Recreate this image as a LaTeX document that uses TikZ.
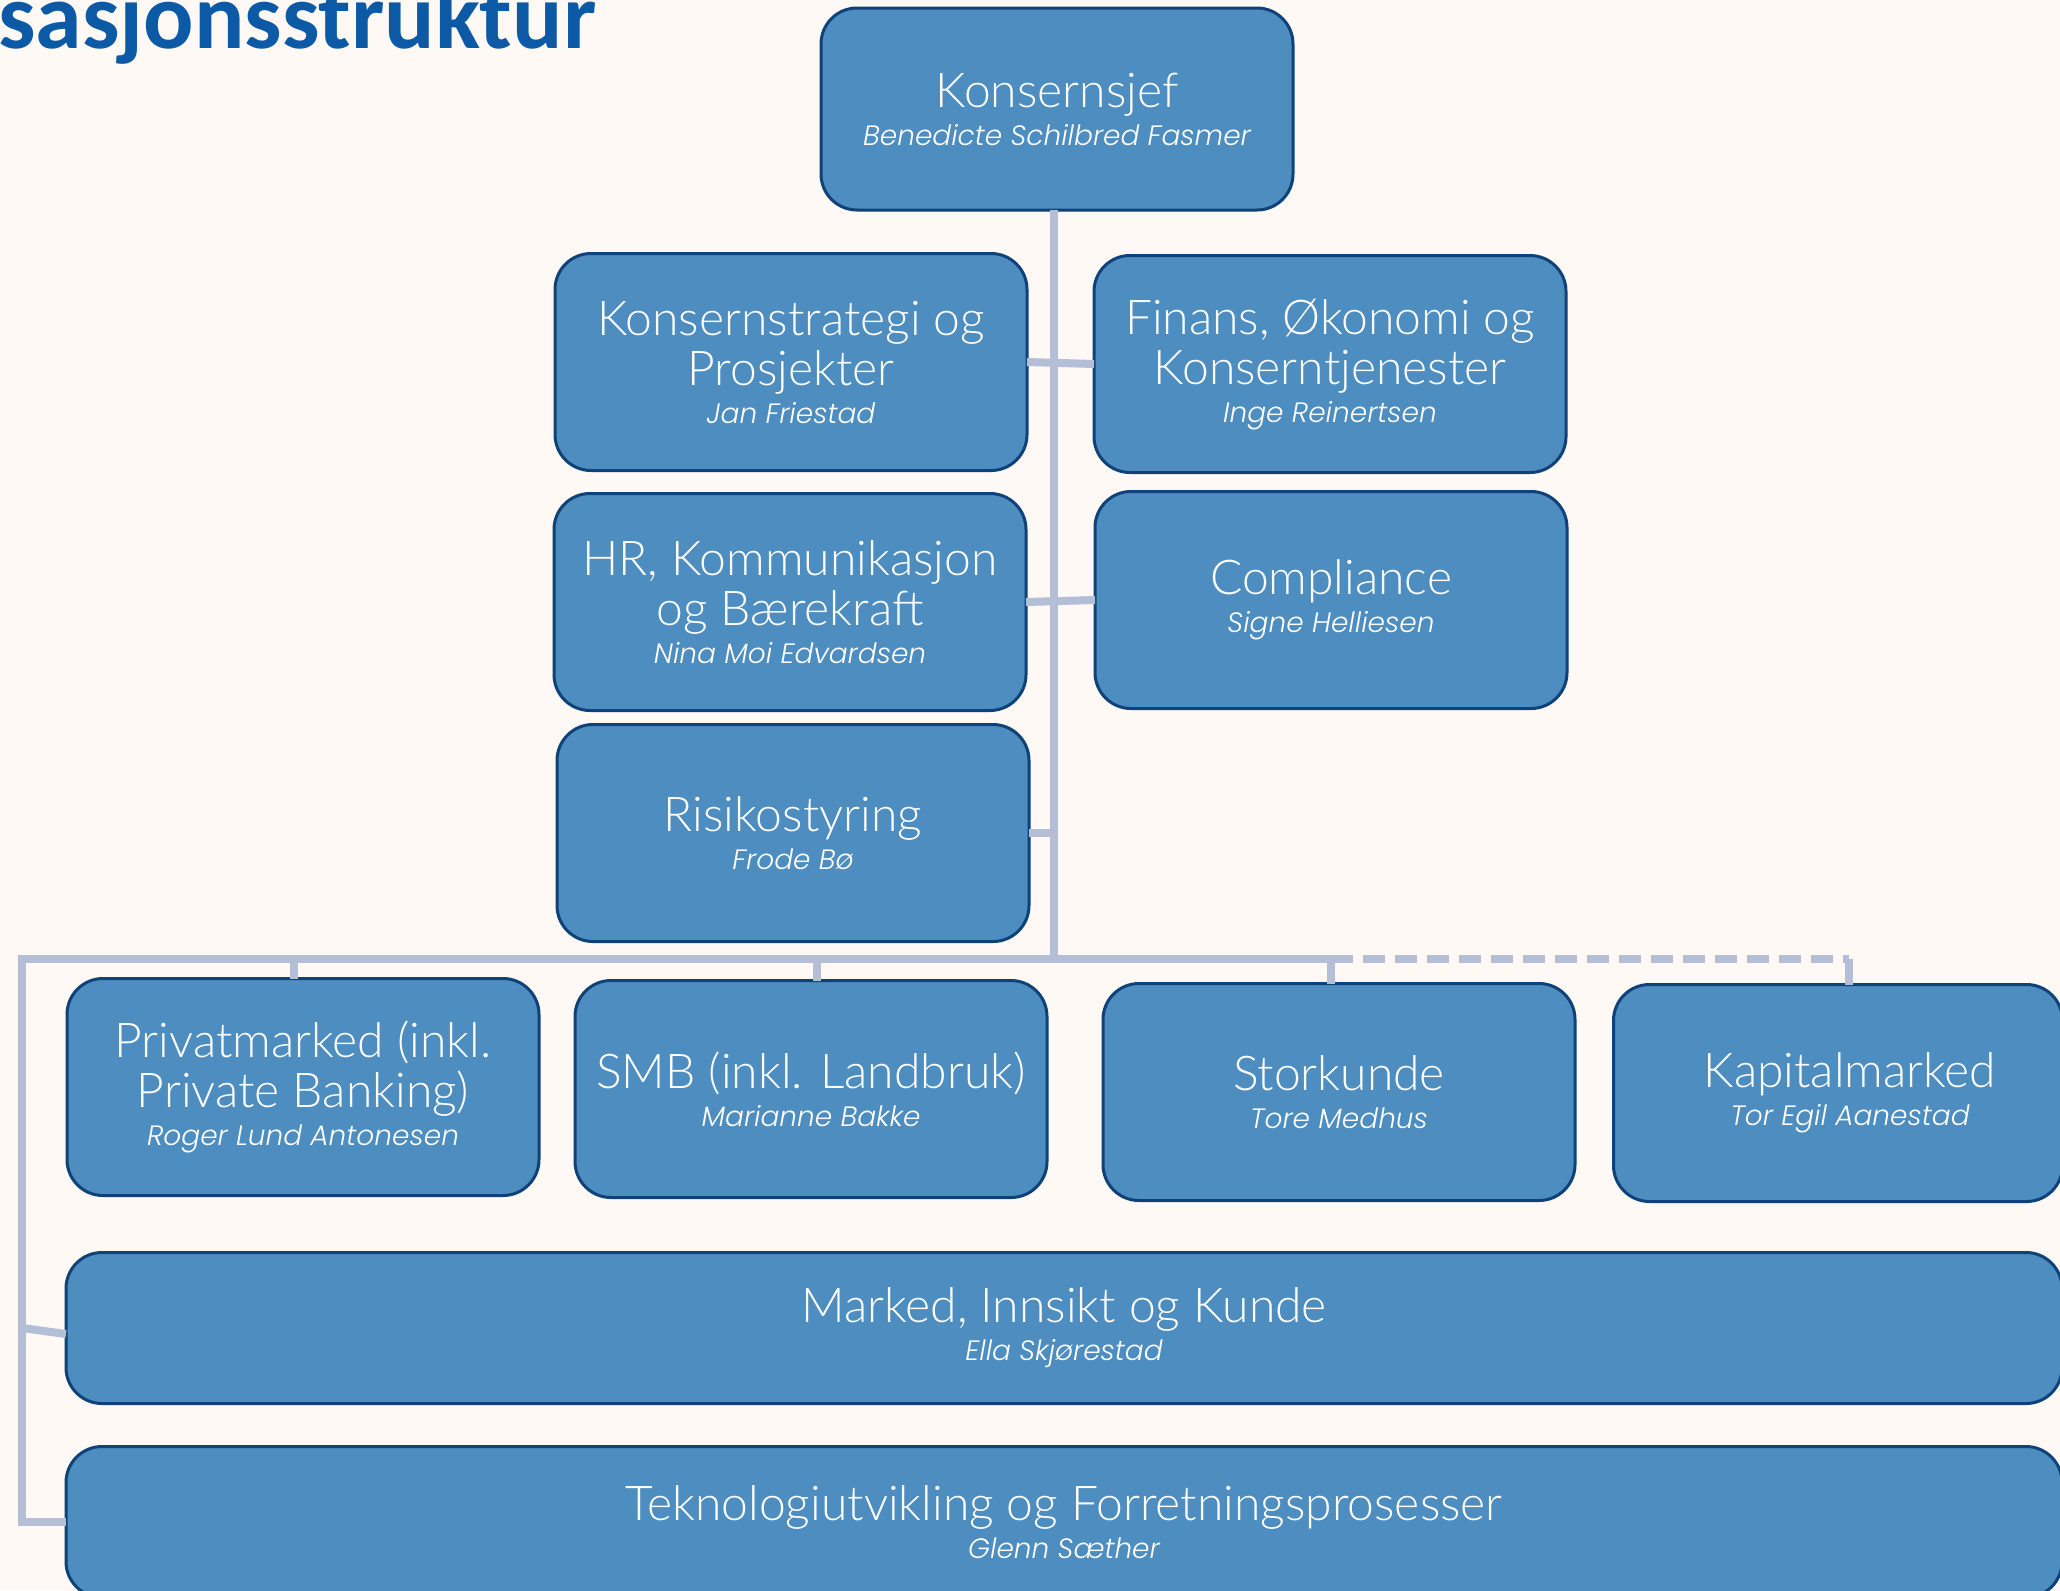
\documentclass[tikz,border=0pt]{standalone}
\usepackage{fontspec}
\setmainfont{Lato Light}[ItalicFont={Lato Light Italic}]
\IfFontExistsTF{Poppins Light Italic}
  {\newfontfamily\namefont{Poppins Light Italic}}
  {\newfontfamily\namefont{Poppins Italic}}
\newfontfamily\headfont{Carlito}
\usetikzlibrary{calc}
\definecolor{pagebg}  {RGB}{254,249,245}
\definecolor{unitfill}{RGB}{ 78,141,192}
\definecolor{unitline}{RGB}{ 14, 66,120}
\definecolor{linkcol} {RGB}{180,190,215}
\definecolor{headblue}{RGB}{ 12, 90,165}
\tikzset{
  %% Rounded blue unit box
  unit/.style={
    draw=unitline, fill=unitfill, line width=1.5pt,
    rounded corners=18pt, text=white, align=center,
    inner sep=0pt, outer sep=0pt,
    minimum width=236pt, minimum height=108.5pt,
    font=\fontsize{24}{25}\selectfont
  },
  wideunit/.style={unit, minimum width=998pt, minimum height=75.5pt},
  %% Grey-blue reporting lines
  link/.style={draw=linkcol, line width=4pt, line join=miter},
  dottedlink/.style={link, dash pattern=on 11pt off 5pt},
  pagetitle/.style={font=\headfont\bfseries\fontsize{47}{50}\selectfont,
    text=headblue, inner sep=0pt, anchor=base west},
}
\newcommand{\who}[1]{\\[-6pt]{\namefont\fontsize{14}{16}\selectfont #1}}

\begin{document}
\begin{tikzpicture}[x=0.5pt, y=-0.5pt]

  %% ── Page ──────────────────────────────────────────────────────────────
  \useasboundingbox (0,0) rectangle (2060,1590);
  \clip (0,0) rectangle (2060,1590);
  \fill[pagebg] (0,0) rectangle (2060,1590);

  \node[pagetitle] (title) at (-2,48) {sasjonsstruktur};

  %% ══════════════════════════════════════════════════════════════════════
  %%  STAFF UNITS
  %% ══════════════════════════════════════════════════════════════════════
  \node[unit, minimum height=101pt] (ceo) at (1057,109)
        {Konsernsjef\who{Benedicte Schilbred Fasmer}};

  \node[unit] (strat) at (791,362)
        {Konsernstrategi og\\Prosjekter\who{Jan Friestad}};
  \node[unit] (fin)   at (1330,364)
        {Finans, Økonomi og\\Konserntjenester\who{Inge Reinertsen}};
  \node[unit] (hr)    at (790,602)
        {HR, Kommunikasjon\\og Bærekraft\who{Nina Moi Edvardsen}};
  \node[unit] (comp)  at (1331,600)
        {Compliance\who{Signe Helliesen}};
  \node[unit] (risk)  at (793,833)
        {Risikostyring\who{Frode Bø}};

  %% ══════════════════════════════════════════════════════════════════════
  %%  BUSINESS AREAS
  %% ══════════════════════════════════════════════════════════════════════
  \node[unit] (priv) at (303,1087)
        {Privatmarked (inkl.\\Private Banking)\who{Roger Lund Antonesen}};
  \node[unit] (smb)  at (811,1089)
        {SMB (inkl. Landbruk)\who{Marianne Bakke}};
  \node[unit] (stor) at (1339,1092)
        {Storkunde\who{Tore Medhus}};
  \node[unit, minimum width=224.5pt] (kap) at (1838,1093)
        {\hspace*{12pt}Kapitalmarked\who{\hspace*{12pt}Tor Egil Aanestad}};

  \node[wideunit] (mark) at (1064,1328)
        {Marked, Innsikt og Kunde\who{Ella Skjørestad}};
  \node[wideunit] (tek)  at (1064,1522)
        {Teknologiutvikling og Forretningsprosesser\who{Glenn Sæther}};

  %% ══════════════════════════════════════════════════════════════════════
  %%  REPORTING LINES
  %% ══════════════════════════════════════════════════════════════════════
  \coordinate (busL) at (22,959);
  \coordinate (busM) at (1054,959);

  \draw[link] (ceo.south -| busM) -- (busM);
  \draw[link] (strat.east) -- (fin.west);
  \draw[link] (hr.east) -- (comp.west);
  \draw[link] (risk.east) -- (risk.east -| busM);

  % bus with drops
  \draw[link] ([xshift=-4pt]stor.north |- busL) -- (busL)
              -- (busL |- tek.west) -- (tek.west);
  \draw[dottedlink] ([xshift=-4pt]stor.north |- busL)
              -- ([xshift=5.5pt]kap.north |- busL);
  \draw[link] (busL |- mark.west) -- ([yshift=-3pt]mark.west);
  \foreach \u/\dx in {priv/-4.5, smb/3, stor/-4, kap/5.5}{
    \draw[link] ([xshift=\dx pt]\u.north |- busL) -- ([xshift=\dx pt]\u.north);
  }

\end{tikzpicture}
\end{document}
